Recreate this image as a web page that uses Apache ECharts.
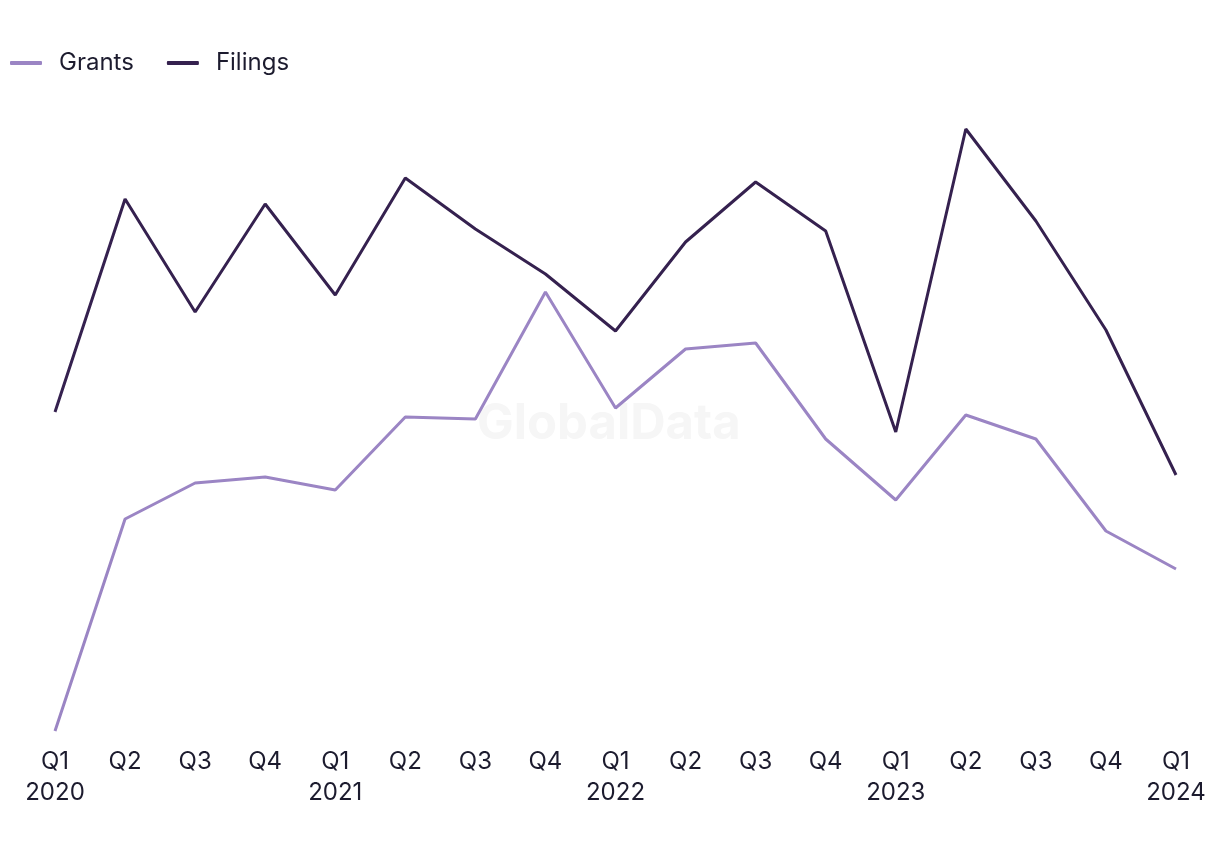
<!DOCTYPE html>
<html>
<head>
<meta charset="utf-8">
<script src="https://cdn.jsdelivr.net/npm/echarts@6/dist/echarts.min.js"></script>
<style>
html,body{margin:0;padding:0;background:#fff;}
#chart{width:1220px;height:850px;}
</style>
</head>
<body>
<div id="chart"></div>
<script>
const categories = ['Q1\n2020','Q2','Q3','Q4','Q1\n2021','Q2','Q3','Q4','Q1\n2022','Q2','Q3','Q4','Q1\n2023','Q2','Q3','Q4','Q1\n2024'];
const grants = [3.8, 46.2, 53.4, 54.6, 52, 66.6, 66.2, 91.6, 68.4, 80.2, 81.4, 62.2, 50, 67, 62.2, 43.8, 36.2];
const filings = [67.6, 110.2, 87.6, 109.2, 91, 114.4, 104.2, 95.2, 83.8, 101.6, 113.6, 103.8, 63.6, 124.2, 105.8, 84, 55];

const chart = echarts.init(document.getElementById('chart'));
const font = 'Inter, "Noto Sans", sans-serif';
chart.setOption({
  animation: false,
  backgroundColor: '#ffffff',
  graphic: [{
    type: 'text', left: 477, top: 400, z: -10,
    style: { text: 'GlobalData', fill: '#f6f6f6', font: 'bold 49px ' + font }
  }],
  legend: {
    left: 5, top: 46, itemWidth: 32, itemHeight: 4, itemGap: 33,
    icon: 'roundRect',
    textStyle: { fontFamily: font, fontSize: 24, color: '#1c1b2e', padding: [0,0,0,12] },
    data: ['Grants','Filings']
  },
  grid: { left: 55, right: 44, top: 100, bottom: 100 },
  xAxis: {
    type: 'category', data: categories, boundaryGap: false,
    axisLine: { show: false }, axisTick: { show: false },
    axisLabel: { fontFamily: font, fontSize: 24, color: '#1c1b2e', lineHeight: 31, margin: -4, interval: 0 }
  },
  yAxis: {
    type: 'value', min: 0, max: 130, show: false,
    splitLine: { show: false }
  },
  series: [
    { name: 'Grants', type: 'line', data: grants, symbol: 'none', color: '#9b85c4',
      lineStyle: { width: 3, color: '#9b85c4' } },
    { name: 'Filings', type: 'line', data: filings, symbol: 'none', color: '#35214f',
      lineStyle: { width: 3, color: '#35214f' } }
  ]
});
</script>
</body>
</html>
